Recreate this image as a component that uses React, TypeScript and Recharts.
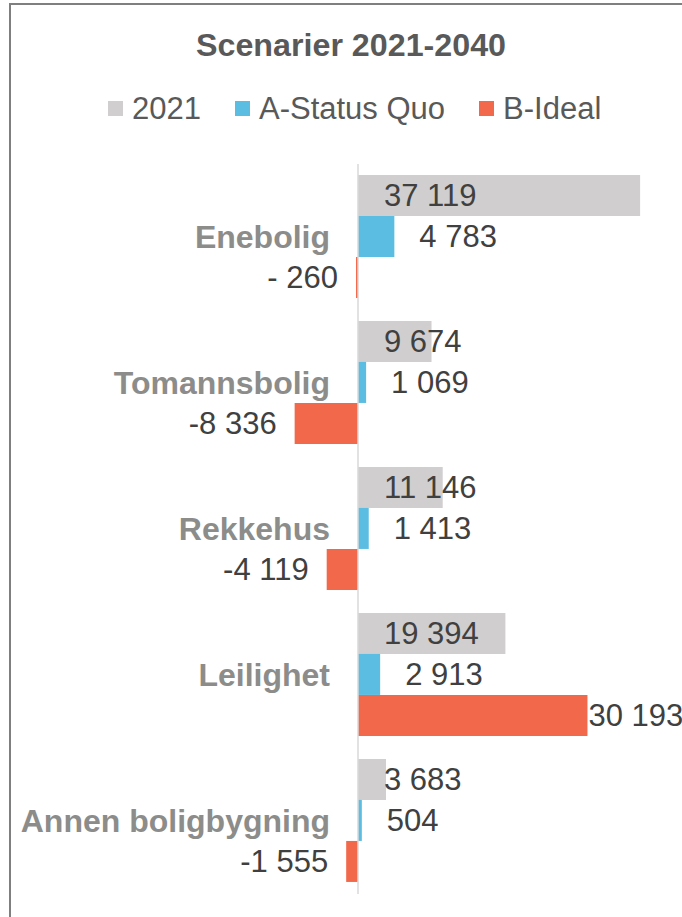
import React from "react";
import { BarChart, Bar, XAxis, YAxis, ReferenceLine, LabelList } from "recharts";

const CATEGORIES = ["Enebolig", "Tomannsbolig", "Rekkehus", "Leilighet", "Annen boligbygning"];
const VALUES_2021 = [37119, 9674, 11146, 19394, 3683];
const VALUES_A = [4783, 1069, 1413, 2913, 504];
const VALUES_B = [-260, -8336, -4119, 30193, -1555];

const SERIES = [
  { key: "y2021", name: "2021", color: "#D0CECE" },
  { key: "a", name: "A-Status Quo", color: "#5BBDE1" },
  { key: "b", name: "B-Ideal", color: "#F2684A" },
];

const X_DOMAIN: [number, number] = [-40000, 40000];

const data = CATEGORIES.map((name, i) => ({
  name,
  y2021: VALUES_2021[i],
  a: VALUES_A[i],
  b: VALUES_B[i],
}));

const FONT = "'Liberation Sans', Arial, sans-serif";
const W = 682;
const H = 917;
const MARGIN = { top: 164, right: 20, bottom: 23, left: 0 };
const Y_AXIS_W = 54;
const PLOT_W = W - MARGIN.left - MARGIN.right - Y_AXIS_W;
const ZERO_X =
  MARGIN.left + Y_AXIS_W + ((0 - X_DOMAIN[0]) / (X_DOMAIN[1] - X_DOMAIN[0])) * PLOT_W;

function fmt(v: number) {
  const abs = Math.abs(v);
  const s = String(abs).replace(/\B(?=(\d{3})+(?!\d))/g, " ");
  if (v < 0) return abs < 1000 ? "- " + s : "-" + s;
  return s;
}

const labelStyle = { fontSize: 31, fill: "#404040", fontFamily: FONT };

function CategoryTick(props: any) {
  const { y, payload } = props;
  return (
    <text
      x={ZERO_X - 28}
      y={y}
      dy="0.35em"
      textAnchor="end"
      fontWeight="bold"
      fontSize={32}
      fill="#8C8C8A"
      fontFamily={FONT}
    >
      {payload.value}
    </text>
  );
}

const baseLabel = (props: any) => {
  const { x, y, height, value } = props;
  return (
    <text x={Number(x) + 26} y={Number(y) + Number(height) / 2} dy="0.355em" {...labelStyle}>
      {fmt(value)}
    </text>
  );
};

const endLabel = (props: any) => {
  const { x, y, width, height, value } = props;
  const left = Math.min(Number(x), Number(x) + Number(width));
  const right = Math.max(Number(x), Number(x) + Number(width));
  const cy = Number(y) + Number(height) / 2;
  if (value < 0) {
    return (
      <text x={left - 18} y={cy} dy="0.355em" textAnchor="end" {...labelStyle}>
        {fmt(value)}
      </text>
    );
  }
  const gap = props.gap ?? 25;
  return (
    <text x={right + gap} y={cy} dy="0.355em" {...labelStyle}>
      {fmt(value)}
    </text>
  );
};

export default function App() {
  return (
    <div
      style={{
        position: "absolute",
        left: 0,
        top: 0,
        width: W,
        height: H,
        overflow: "hidden",
        background: "#fff",
      }}
    >
      <div
        style={{
          position: "absolute",
          left: 9,
          top: 3,
          width: 720,
          height: 960,
          borderTop: "2px solid #7F7F7F",
          borderLeft: "2px solid #7F7F7F",
        }}
      />
      <svg width={W} height={140} style={{ position: "absolute", left: 0, top: 0 }}>
        <text
          x={351}
          y={56}
          textAnchor="middle"
          fontWeight="bold"
          fontSize={32}
          textLength={310}
          lengthAdjust="spacingAndGlyphs"
          fill="#595959"
          fontFamily={FONT}
        >
          Scenarier 2021-2040
        </text>
      </svg>
      <div
        style={{
          position: "absolute",
          left: 108,
          top: 93,
          display: "flex",
          alignItems: "center",
          gap: 34,
          fontFamily: FONT,
          fontSize: 31,
          lineHeight: "31px",
          color: "#595959",
          whiteSpace: "nowrap",
        }}
      >
        {SERIES.map((s) => (
          <div key={s.key} style={{ display: "flex", alignItems: "center" }}>
            <span style={{ width: 15, height: 15, background: s.color, marginRight: 9 }} />
            <span>{s.name}</span>
          </div>
        ))}
      </div>
      <div style={{ position: "absolute", left: 0, top: 0 }}>
        <BarChart
          width={W}
          height={H}
          data={data}
          layout="vertical"
          margin={MARGIN}
          barCategoryGap="7.5%"
          barGap={0}
        >
          <XAxis type="number" domain={X_DOMAIN} hide allowDataOverflow />
          <YAxis
            type="category"
            dataKey="name"
            width={Y_AXIS_W}
            axisLine={false}
            tickLine={false}
            interval={0}
            tick={<CategoryTick />}
          />
          <ReferenceLine x={0} stroke="#D9D9D9" strokeWidth={1.5} />
          <Bar dataKey="y2021" name="2021" fill={SERIES[0].color} isAnimationActive={false}>
            <LabelList dataKey="y2021" content={baseLabel} />
          </Bar>
          <Bar dataKey="a" name="A-Status Quo" fill={SERIES[1].color} isAnimationActive={false}>
            <LabelList dataKey="a" content={(p: any) => endLabel({ ...p, gap: 25 })} />
          </Bar>
          <Bar dataKey="b" name="B-Ideal" fill={SERIES[2].color} isAnimationActive={false}>
            <LabelList dataKey="b" content={(p: any) => endLabel({ ...p, gap: 1 })} />
          </Bar>
        </BarChart>
      </div>
    </div>
  );
}
